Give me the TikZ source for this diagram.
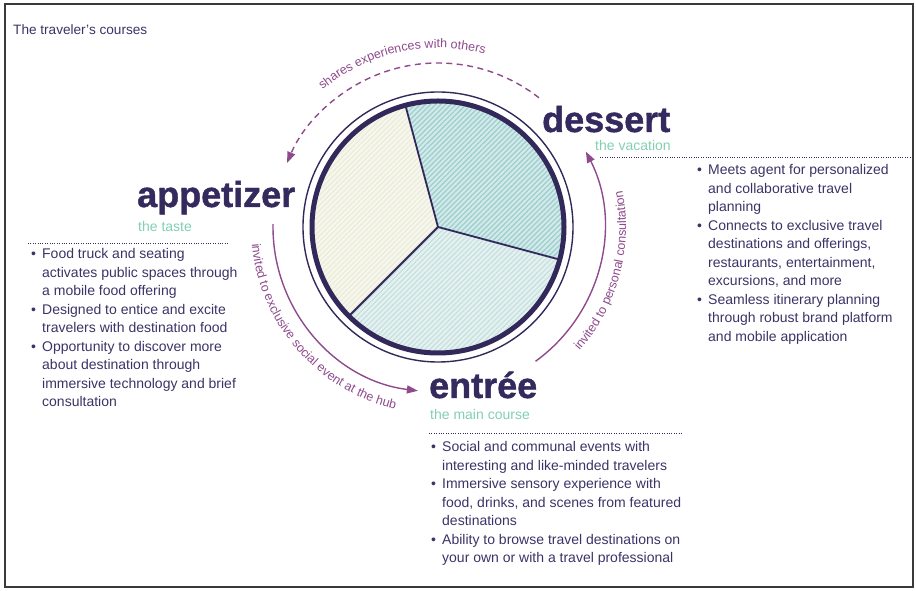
\documentclass[tikz,border=0pt]{standalone}
\usepackage{fontspec}
\setmainfont{Liberation Sans}
\newfontfamily\heavyfont{Liberation Sans}[BoldFeatures={FakeBold=1.2}]
\usetikzlibrary{arrows.meta,decorations.text,patterns.meta}

\definecolor{ink}{HTML}{352A5E}
\definecolor{body}{HTML}{3B3366}
\definecolor{mint}{HTML}{82CFB2}
\definecolor{plum}{HTML}{8E4A8C}
\definecolor{ring}{HTML}{32285A}
\definecolor{framec}{HTML}{3A3A3A}
\definecolor{dessertbase}{HTML}{D3EAEA}
\definecolor{dessertline}{HTML}{9ECFCE}
\definecolor{appbase}{HTML}{F7F7EC}
\definecolor{appline}{HTML}{ECECDE}
\definecolor{entbase}{HTML}{E6F2F1}
\definecolor{entline}{HTML}{C6E1E0}

\newcommand\arclabelfont{\fontsize{12.5}{12.5}\selectfont}
\newcommand\bl{\makebox[11pt][l]{\textbullet}}

\begin{document}
\begin{tikzpicture}[x=1pt,y=1pt,
  course/.style={anchor=base west, inner sep=0, font=\heavyfont\fontsize{36}{36}\selectfont\bfseries, text=ink},
  subtitle/.style={anchor=base west, inner sep=0, font=\fontsize{14}{14}\selectfont, text=mint},
  bullets/.style={anchor=base west, inner sep=0, font=\fontsize{14}{18.5}\selectfont, text=body},
  rule/.style={draw=ink, line width=0.9pt, dash pattern=on 0.9pt off 1.5pt},
  flow/.style={draw=plum, line width=1.4pt, -{Triangle[length=11pt,width=8pt]}},
  flowtext/.style={decorate, decoration={text along path, text align=center, text color=plum}},
  slice/.style={line width=1.8pt, draw=ring},
]
\useasboundingbox (0,0) rectangle (916,591);
\draw[framec, line width=1.2pt] (5,4) rectangle (913,587);

\node[anchor=base west, inner sep=0, font=\fontsize{13.6}{13.6}\selectfont, text=body]
  (title) at (13,556) {The traveler’s courses};

% the plate: three equal slices
\coordinate (C) at (438,364);
\fill[dessertbase] (C) -- ++(-15:124) arc[start angle=-15, end angle=105, radius=124] -- cycle;
\fill[pattern={Lines[angle=45, distance=3.6pt, line width=1.3pt]}, pattern color=dessertline]
  (C) -- ++(-15:124) arc[start angle=-15, end angle=105, radius=124] -- cycle;
\fill[appbase] (C) -- ++(105:124) arc[start angle=105, end angle=225, radius=124] -- cycle;
\fill[pattern={Lines[angle=45, distance=3.6pt, line width=1.3pt]}, pattern color=appline]
  (C) -- ++(105:124) arc[start angle=105, end angle=225, radius=124] -- cycle;
\fill[entbase] (C) -- ++(225:124) arc[start angle=225, end angle=345, radius=124] -- cycle;
\fill[pattern={Lines[angle=45, distance=3.6pt, line width=1.3pt]}, pattern color=entline]
  (C) -- ++(225:124) arc[start angle=225, end angle=345, radius=124] -- cycle;
\draw[slice] (C) -- ++(105:124);
\draw[slice] (C) -- ++(225:124);
\draw[slice] (C) -- ++(345:124);
\draw[ring, line width=5pt] (C) circle[radius=126];
\draw[ring, line width=1.4pt] (C) circle[radius=135];

% course titles
\node[course] (dessert) at (542,459) {dessert};
\node[subtitle] (dessertsub) at (595,440) {the vacation};
\node[course] (appetizer) at (137,384) {appetizer};
\node[subtitle] (appetizersub) at (138,359) {the taste};
\node[course] (entree) at (429,193) {entrée};
\node[subtitle] (entreesub) at (430,171) {the main course};

% dotted rules
\draw[rule] (28,348) -- (228,348);
\draw[rule] (600,434) -- (910,434);
\draw[rule] (429,158) -- (683,158);

% bullet lists
\node[bullets] (appetizerlist) at (31,332) {\begin{tabular}[t]{@{}l@{}l@{}}
\bl & Food truck and seating\\
 & activates public spaces through\\
 & a mobile food offering\\
\bl & Designed to entice and excite\\
 & travelers with destination food\\
\bl & Opportunity to discover more\\
 & about destination through\\
 & immersive technology and brief\\
 & consultation
\end{tabular}};
\node[bullets] (dessertlist) at (697,416) {\begin{tabular}[t]{@{}l@{}l@{}}
\bl & Meets agent for personalized\\
 & and collaborative travel\\
 & planning\\
\bl & Connects to exclusive travel\\
 & destinations and offerings,\\
 & restaurants, entertainment,\\
 & excursions, and more\\
\bl & Seamless itinerary planning\\
 & through robust brand platform\\
 & and mobile application
\end{tabular}};
\node[bullets] (entreelist) at (431,139) {\begin{tabular}[t]{@{}l@{}l@{}}
\bl & Social and communal events with\\
 & interesting and like-minded travelers\\
\bl & Immersive sensory experience with\\
 & food, drinks, and scenes from featured\\
 & destinations\\
\bl & Ability to browse travel destinations on\\
 & your own or with a travel professional
\end{tabular}};

% flow between the courses
\draw[flow, dash pattern=on 6pt off 4.5pt] ([shift={(52:164)}]C) arc[start angle=52, end angle=157, radius=164];
\draw[flow] ([shift={(179:165)}]C) arc[start angle=179, end angle=263, radius=165];
\draw[flow] ([shift={(-54:166)}]C) arc[start angle=-54, end angle=27, radius=166];

\path[flowtext, decoration={text={|\arclabelfont|shares experiences with others}}]
  ([shift={(137:179)}]C) arc[start angle=137, end angle=68, radius=179];
\path[flowtext, decoration={text={|\arclabelfont|invited to exclusive social event at the hub}}]
  ([shift={(170:187)}]C) arc[start angle=170, end angle=272, radius=187];
\path[flowtext, decoration={text={|\arclabelfont|invited to personal consultation}}]
  ([shift={(-60:188)}]C) arc[start angle=-60, end angle=30, radius=188];
\end{tikzpicture}
\end{document}
